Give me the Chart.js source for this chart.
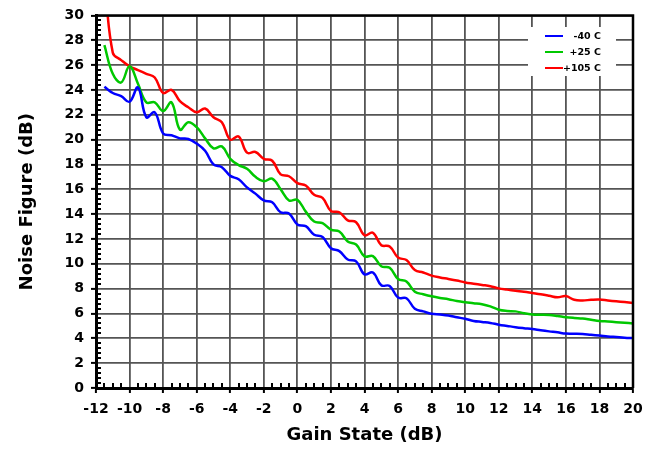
<!DOCTYPE html>
<html>
<head>
<meta charset="utf-8">
<script src="https://cdn.jsdelivr.net/npm/chart.js@4/dist/chart.umd.min.js"></script>
<style>
  body{margin:0;background:#fff;}
  #wrap{width:659px;height:450px;}
</style>
</head>
<body>
<div id="wrap"><canvas id="nfChart" width="659" height="450"></canvas></div>
<script>
// gain state steps (dB)
var gainState = [-11.5,-11,-10.5,-10,-9.5,-9,-8.5,-8,-7.5,-7,-6.5,-6,-5.5,-5,-4.5,-4,-3.5,-3,-2.5,-2,-1.5,-1,-0.5,0,
    0.5,1,1.5,2,2.5,3,3.5,4,4.5,5,5.5,6,6.5,7,7.5,8,8.5,9,9.5,10,10.5,11,11.5,12,12.5,13,13.5,14,14.5,15,15.5,16,
    16.5,17,17.5,18,18.5,19,19.5,20];

// noise figure (dB) per temperature
var nfMinus40 = [24.25,23.75,23.5,23.05,24.2,21.8,22.2,20.5,20.35,20.1,20.05,19.68,19.1,18.0,17.78,17.08,16.8,16.15,15.65,15.1,14.95,14.15,14.05,13.17,
    13.03,12.34,12.15,11.25,11.02,10.35,10.2,9.15,9.3,8.27,8.22,7.28,7.23,6.38,6.17,5.98,5.92,5.84,5.7,5.57,5.4,5.32,5.24,5.1,5.0,4.9,4.82,4.75,4.65,4.56,4.48,4.38,
    4.37,4.35,4.28,4.22,4.15,4.1,4.05,4.02];
var nfPlus25 = [27.6,25.3,24.6,25.9,24.5,23.0,23.0,22.3,23.0,20.8,21.4,21.0,20.1,19.3,19.45,18.45,17.95,17.65,17.0,16.65,16.85,16.0,15.1,15.15,
    14.2,13.4,13.28,12.75,12.6,11.8,11.55,10.6,10.62,9.8,9.68,8.78,8.57,7.75,7.55,7.38,7.25,7.15,7.0,6.9,6.83,6.75,6.57,6.3,6.2,6.17,6.02,5.92,5.9,5.88,5.8,5.7,
    5.64,5.6,5.5,5.4,5.35,5.3,5.25,5.2];
var nfPlus105 = [33,27.0,26.4,25.9,25.6,25.3,25.0,23.75,24.0,23.1,22.6,22.2,22.5,21.8,21.4,20.0,20.25,18.95,19.0,18.45,18.3,17.2,17.05,16.5,
    16.3,15.55,15.3,14.25,14.15,13.5,13.35,12.3,12.5,11.5,11.4,10.5,10.3,9.5,9.3,9.05,8.9,8.78,8.65,8.5,8.4,8.3,8.2,8.02,7.92,7.83,7.75,7.65,7.55,7.43,7.3,7.4,
    7.1,7.05,7.1,7.12,7.05,6.98,6.92,6.85];

var seriesNames = ['-40 C','+25 C','+105 C'];
var seriesColors = ['#0000ff','#00c800','#ff0000'];

function toXY(ys){
    return ys.map(function(y,i){ return {x:gainState[i], y:y}; });
}

var FONT = "'DejaVu Sans', Verdana, sans-serif";

// frame, minor ticks and the little legend box
var extras = {
    id:'extras',
    afterDatasetsDraw:function(chart){
        var ctx = chart.ctx, a = chart.chartArea;
        var xs = chart.scales.x, ys = chart.scales.y;
        ctx.save();
        ctx.strokeStyle = '#000';
        ctx.lineWidth = 2;
        // minor ticks x (0.5 dB)
        for(var v = -12; v <= 20.001; v += 0.5){
            if(Math.abs(v % 2) < 0.001) continue;
            var px = Math.round(xs.getPixelForValue(v));
            ctx.beginPath(); ctx.moveTo(px, a.bottom); ctx.lineTo(px, a.bottom - 5); ctx.stroke();
        }
        // minor ticks y (0.4 dB)
        for(var k = 0; k <= 75; k++){
            if(k % 5 === 0) continue;
            var py = Math.round(ys.getPixelForValue(k*0.4));
            ctx.beginPath(); ctx.moveTo(a.left, py); ctx.lineTo(a.left + 5, py); ctx.stroke();
        }
        // top / right frame
        ctx.lineWidth = 2.5;
        ctx.beginPath();
        ctx.moveTo(a.left, a.top); ctx.lineTo(a.right, a.top); ctx.lineTo(a.right, a.bottom);
        ctx.stroke();

        // legend
        var lx = 528, ly = 27;
        ctx.fillStyle = '#fff';
        ctx.fillRect(lx, ly, 88, 49);
        ctx.font = 'bold 9.5px ' + FONT;
        ctx.textAlign = 'right';
        ctx.textBaseline = 'middle';
        chart.data.datasets.forEach(function(ds,i){
            var yy = 36 + i*16;
            ctx.strokeStyle = ds.borderColor;
            ctx.lineWidth = 2;
            ctx.beginPath(); ctx.moveTo(545, yy); ctx.lineTo(563, yy); ctx.stroke();
            ctx.fillStyle = '#000';
            ctx.fillText(ds.label, 601, yy + 0.5);
        });
        ctx.restore();
    }
};

var ctx = document.getElementById('nfChart').getContext('2d');
var chart = new Chart(ctx, {
    type: 'line',
    data: {
        datasets: [
            {label:seriesNames[0], data:toXY(nfMinus40), borderColor:seriesColors[0]},
            {label:seriesNames[1], data:toXY(nfPlus25), borderColor:seriesColors[1]},
            {label:seriesNames[2], data:toXY(nfPlus105), borderColor:seriesColors[2]}
        ]
    },
    options: {
        responsive:false,
        animation:false,
        layout:{padding:{top:12,right:26,left:0,bottom:0}},
        elements:{
            line:{borderWidth:2.5, tension:0.4, fill:false},
            point:{radius:0}
        },
        plugins:{
            legend:{display:false},
            tooltip:{enabled:false}
        },
        scales:{
            x:{
                type:'linear', min:-12, max:20,
                afterFit:function(s){ s.height = 62; },
                ticks:{stepSize:2, color:'#000', padding:8, maxRotation:0, autoSkip:false,
                    font:{family:FONT, size:14, weight:'bold'}},
                grid:{color:'#555', lineWidth:1.8, tickLength:5, tickColor:'#000', tickWidth:2},
                border:{color:'#000', width:3},
                title:{display:true, text:'Gain State (dB)', color:'#000', padding:{top:0,bottom:4},
                    font:{family:FONT, size:18, weight:'bold'}}
            },
            y:{
                type:'linear', min:0, max:30,
                afterFit:function(s){ s.width = 96; },
                ticks:{stepSize:2, color:'#000', padding:7, autoSkip:false,
                    font:{family:FONT, size:14, weight:'bold'}},
                grid:{color:'#555', lineWidth:1.8, tickLength:5, tickColor:'#000', tickWidth:2},
                border:{color:'#000', width:3},
                title:{display:true, text:'Noise Figure (dB)', color:'#000', padding:{top:17,bottom:0},
                    font:{family:FONT, size:18, weight:'bold'}}
            }
        }
    },
    plugins:[extras]
});
</script>
</body>
</html>
